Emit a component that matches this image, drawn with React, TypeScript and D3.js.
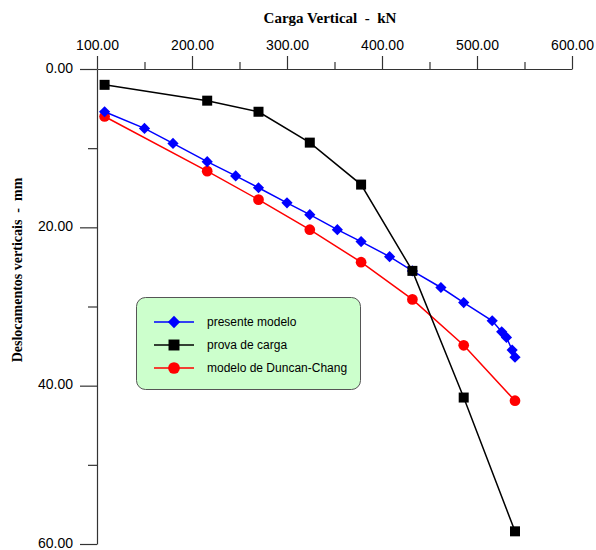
import * as d3 from "d3";
import { useRef, useEffect } from "react";

// carga vertical (kN) e deslocamentos (mm)
const loadsPresente = [108, 150, 180, 216, 246, 270, 300, 324, 353, 378, 408, 432, 462, 486, 516, 526, 531, 537, 540];
const dispPresente = [5.4, 7.5, 9.4, 11.7, 13.5, 15.0, 16.9, 18.4, 20.3, 21.8, 23.7, 25.5, 27.6, 29.5, 31.8, 33.2, 33.9, 35.5, 36.4];

const loadsProva = [108, 216, 270, 324, 378, 432, 486, 540];
const dispProva = [2.0, 4.0, 5.4, 9.3, 14.6, 25.5, 41.5, 58.4];

const loadsDuncan = [108, 216, 270, 324, 378, 432, 486, 540];
const dispDuncan = [6.0, 12.9, 16.5, 20.3, 24.4, 29.1, 34.9, 41.9];

const xMajor = [100, 200, 300, 400, 500, 600];
const xMinor = [150, 250, 350, 450, 550];
const yMajor = [0, 20, 40, 60];
const yMinor = [10, 30, 50];

const legendLabels = ["presente modelo", "prova de carga", "modelo de Duncan-Chang"];

const W = 596;
const H = 550;
const margin = { top: 69, left: 97, right: 24, bottom: 6 };

const App = () => {
	const chartRef = useRef(null);

	useEffect(() => {
		const svg = d3.select(chartRef.current);
		svg.selectAll("*").remove();

		const x = d3.scaleLinear().domain([100, 600]).range([margin.left, W - margin.right]);
		const y = d3.scaleLinear().domain([0, 60]).range([margin.top, H - margin.bottom]);
		const fmt = d3.format(".2f");

		// eixo superior
		const gx = svg.append("g").attr("transform", `translate(0, ${margin.top})`);
		gx.call(d3.axisTop(x).tickValues(xMajor).tickFormat(fmt).tickSize(13).tickSizeOuter(0));
		gx.append("g").call(d3.axisTop(x).tickValues(xMinor).tickFormat(() => "").tickSize(7).tickSizeOuter(0))
			.select(".domain").remove();
		gx.selectAll("text")
			.attr("font-family", "'Liberation Sans', Arial, sans-serif")
			.attr("font-size", 14)
			.attr("fill", "#000")
			.attr("dy", "-3");

		// eixo esquerdo
		const gy = svg.append("g").attr("transform", `translate(${margin.left}, 0)`);
		gy.call(d3.axisLeft(y).tickValues(yMajor).tickFormat(fmt).tickSize(17).tickSizeOuter(0));
		gy.append("g").call(d3.axisLeft(y).tickValues(yMinor).tickFormat(() => "").tickSize(9).tickSizeOuter(0))
			.select(".domain").remove();
		gy.selectAll("text")
			.attr("font-family", "'Liberation Sans', Arial, sans-serif")
			.attr("font-size", 14)
			.attr("fill", "#000")
			.attr("dx", "-4")
			.attr("dy", "0.22em");

		svg.selectAll(".domain, .tick line").attr("stroke", "#333").attr("stroke-width", 1.2);

		// titulos
		svg.append("text")
			.attr("x", 330)
			.attr("y", 23)
			.attr("text-anchor", "middle")
			.attr("font-family", "'Liberation Serif', 'Times New Roman', serif")
			.attr("font-weight", "bold")
			.attr("font-size", 15)
			.attr("xml:space", "preserve")
			.text("Carga Vertical  -  kN");

		svg.append("text")
			.attr("transform", "translate(22, 270) rotate(-90)")
			.attr("text-anchor", "middle")
			.attr("font-family", "'Liberation Serif', 'Times New Roman', serif")
			.attr("font-weight", "bold")
			.attr("font-size", 14)
			.attr("xml:space", "preserve")
			.text("Deslocamentos verticais  -  mm");

		const line = d3.line().x(d => x(d[0])).y(d => y(d[1]));

		const series = [
			{ loads: loadsDuncan, disp: dispDuncan, color: "#ff0000", symbol: d3.symbolCircle, size: 90 },
			{ loads: loadsPresente, disp: dispPresente, color: "#0000ff", symbol: d3.symbolDiamond2, size: 80 },
			{ loads: loadsProva, disp: dispProva, color: "#000000", symbol: d3.symbolSquare, size: 100 },
		];

		series.forEach(s => {
			const pts = s.loads.map((l, i) => [l, s.disp[i]]);
			svg.append("path")
				.attr("d", line(pts))
				.attr("fill", "none")
				.attr("stroke", s.color)
				.attr("stroke-width", 1.5);
			svg.append("g").selectAll("path")
				.data(pts)
				.enter()
				.append("path")
				.attr("transform", d => `translate(${x(d[0])}, ${y(d[1])})`)
				.attr("d", d3.symbol(s.symbol, s.size))
				.attr("fill", s.color);
		});

		// legenda
		const lg = svg.append("g");
		lg.append("rect")
			.attr("x", 136.5)
			.attr("y", 297.5)
			.attr("width", 224)
			.attr("height", 92)
			.attr("rx", 9)
			.attr("fill", "#ccffcc")
			.attr("stroke", "#555")
			.attr("stroke-width", 1);

		const legendItems = [series[1], series[2], series[0]];
		legendItems.forEach((s, i) => {
			const ly = 322 + i * 23;
			lg.append("line")
				.attr("x1", 154).attr("x2", 194)
				.attr("y1", ly).attr("y2", ly)
				.attr("stroke", s.color)
				.attr("stroke-width", 1.5);
			lg.append("path")
				.attr("transform", `translate(174, ${ly})`)
				.attr("d", d3.symbol(s.symbol, s.size * 1.2))
				.attr("fill", s.color);
			lg.append("text")
				.attr("x", 207)
				.attr("y", ly + 4)
				.attr("font-family", "'Liberation Sans', Arial, sans-serif")
				.attr("font-size", 12)
				.text(legendLabels[i]);
		});
	}, []);

	return (
		<svg ref={chartRef} width={W} height={H} style={{ position: "absolute", left: 0, top: 0, background: "#fff" }}></svg>
	);
};

export default App;
